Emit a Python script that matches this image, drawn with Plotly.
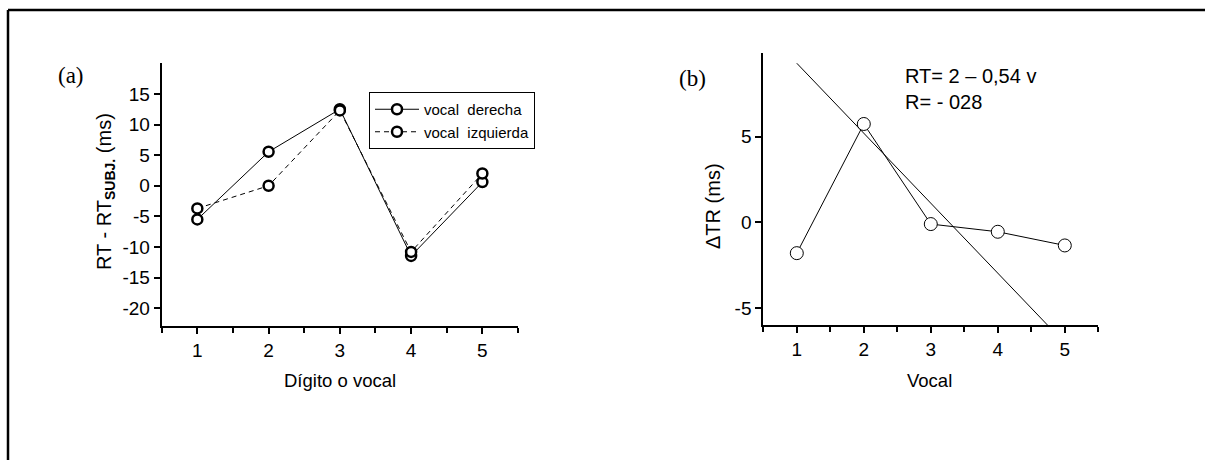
import plotly.graph_objects as go

W, H = 1205, 460

# ---- data ----
digits = [1, 2, 3, 4, 5]
vocal_derecha = [-5.5, 5.55, 12.5, -11.45, 0.6]
vocal_izquierda = [-3.7, 0.0, 12.3, -10.8, 2.0]
ticks_a = [-20, -15, -10, -5, 0, 5, 10, 15]

vocales = [1, 2, 3, 4, 5]
delta_tr = [-1.8, 5.75, -0.1, -0.55, -1.35]
ticks_b = [-5, 0, 5]
fit_x = [1, 5]
fit_y = [9.3, -7.06]

tick_font = dict(family="Liberation Sans, Arial", size=19, color="black")


def px_x(p):
    return p / W


def px_y(p):
    return 1 - p / H


fig = go.Figure()

# panel (a)
fig.add_trace(go.Scatter(
    x=digits, y=vocal_derecha, mode="lines+markers", name="vocal  derecha",
    line=dict(color="black", width=1),
    marker=dict(symbol="circle", size=10, color="white", line=dict(color="black", width=2.5)),
    xaxis="x", yaxis="y"))
fig.add_trace(go.Scatter(
    x=digits, y=vocal_izquierda, mode="lines+markers", name="vocal  izquierda",
    line=dict(color="black", width=1, dash="5px,4px"),
    marker=dict(symbol="circle", size=10, color="white", line=dict(color="black", width=2.5)),
    xaxis="x", yaxis="y"))

# panel (b)
fig.add_trace(go.Scatter(
    x=fit_x, y=fit_y, mode="lines", showlegend=False,
    line=dict(color="black", width=1), xaxis="x2", yaxis="y2"))
fig.add_trace(go.Scatter(
    x=vocales, y=delta_tr, mode="lines+markers", showlegend=False,
    line=dict(color="black", width=1),
    marker=dict(symbol="circle", size=13, color="white", line=dict(color="black", width=1)),
    xaxis="x2", yaxis="y2"))

axis_common = dict(
    showgrid=False, zeroline=False, showline=True, linecolor="black", linewidth=2,
    ticks="outside", ticklen=6, tickwidth=1.5, tickcolor="black", tickfont=tick_font,
    fixedrange=True,
)
minor_x = dict(tick0=0.5, dtick=0.5, ticks="outside", ticklen=5, tickcolor="black", tickwidth=1.5)

fig.update_layout(
    width=W, height=H,
    margin=dict(l=0, r=0, t=0, b=0),
    paper_bgcolor="white", plot_bgcolor="white",
    xaxis=dict(domain=[px_x(161.7), px_x(518)], range=[0.5, 5.5], tickvals=digits,
               minor=minor_x, anchor="y", **axis_common),
    yaxis=dict(domain=[px_y(326), px_y(63.3)], range=[-22.9, 20], tickvals=ticks_a,
               ticktext=[str(v) for v in ticks_a], anchor="x", **axis_common),
    xaxis2=dict(domain=[px_x(763.3), px_x(1098.3)], range=[0.5, 5.5], tickvals=vocales,
                minor=minor_x, anchor="y2", **axis_common),
    yaxis2=dict(domain=[px_y(325), px_y(53)], range=[-6, 9.9], tickvals=ticks_b,
                ticktext=[str(v) for v in ticks_b], anchor="x2", **axis_common),
    legend=dict(x=px_x(369), y=px_y(92), xanchor="left", yanchor="top",
                bordercolor="black", borderwidth=1, bgcolor="white",
                font=dict(family="Liberation Sans, Arial", size=15, color="black"),
                tracegroupgap=0, itemwidth=44),
    showlegend=True,
)

ann_font = dict(family="Liberation Sans, Arial", size=18.5, color="black")
serif_font = dict(family="Liberation Serif, Times New Roman", size=23, color="black")

annotations = [
    dict(text="(a)", x=px_x(71), y=px_y(76), font=serif_font),
    dict(text="(b)", x=px_x(692), y=px_y(78), font=serif_font),
    dict(text="Dígito o vocal", x=px_x(340), y=px_y(380), font=ann_font),
    dict(text="Vocal", x=px_x(929), y=px_y(380), font=ann_font),
    dict(text="RT - RT<sub><b>SUBJ.</b></sub> (ms)", x=px_x(105), y=px_y(192), textangle=-90,
         font=dict(family="Liberation Sans, Arial", size=20, color="black")),
    dict(text="ΔTR (ms)", x=px_x(713), y=px_y(206), textangle=-90,
         font=dict(family="Liberation Sans, Arial", size=20, color="black")),
    dict(text="RT= 2 – 0,54 v<br>R= - 028", x=px_x(903), y=px_y(89), xanchor="left", align="left",
         font=dict(family="Liberation Sans, Arial", size=20, color="black")),
]
for a in annotations:
    a.setdefault("xanchor", "center")
    a.setdefault("yanchor", "middle")
    a.update(xref="paper", yref="paper", showarrow=False)
fig.update_layout(annotations=annotations)

# outer frame (top and left edges)
fig.update_layout(shapes=[
    dict(type="line", xref="paper", yref="paper", x0=px_x(8), x1=1, y0=px_y(10), y1=px_y(10),
         line=dict(color="black", width=2.5)),
    dict(type="line", xref="paper", yref="paper", x0=px_x(8), x1=px_x(8), y0=px_y(10), y1=0,
         line=dict(color="black", width=2.5)),
])

fig.write_html("out.html", config={"displayModeBar": False},
               post_script="document.body.style.margin='0';document.body.style.overflow='hidden';")
